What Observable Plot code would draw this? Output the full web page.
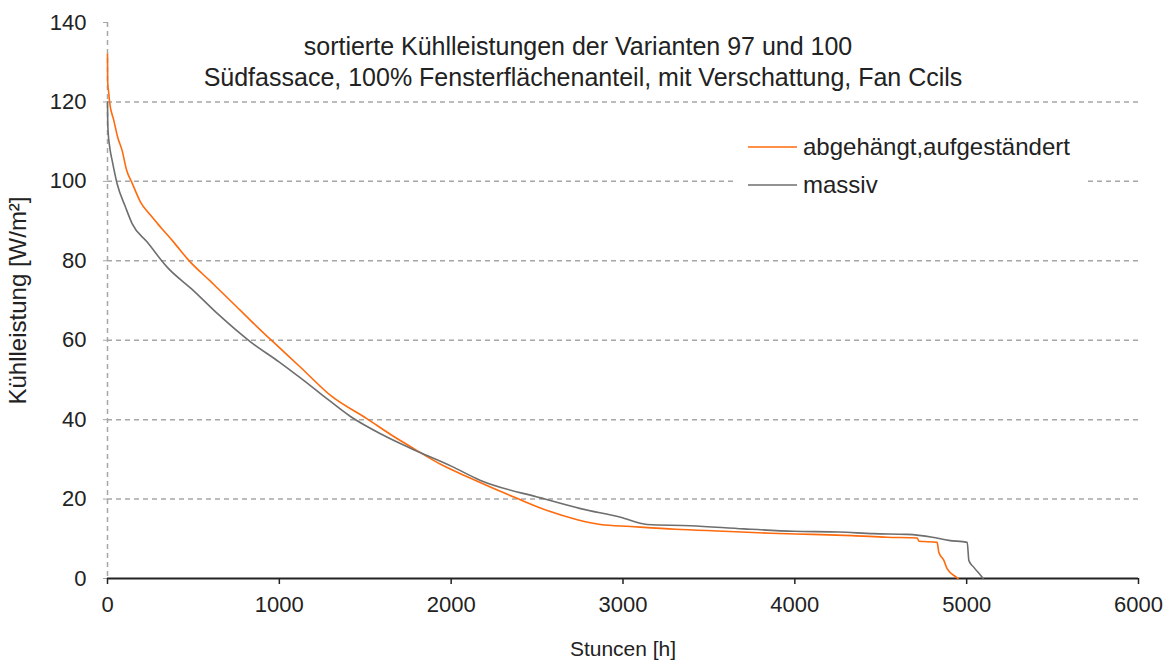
<!DOCTYPE html>
<html>
<head>
<meta charset="utf-8">
<script src="https://cdn.jsdelivr.net/npm/d3@7"></script>
<script src="https://cdn.jsdelivr.net/npm/@observablehq/plot@0.6"></script>
<style>
  html, body { margin: 0; padding: 0; background: #fff; }
  #chart svg { display: block; }
</style>
</head>
<body>
<div id="chart"></div>
<script>
// ---- data ----
const titleLines = [
  "sortierte Kühlleistungen der Varianten 97 und 100",
  "Südfassace, 100% Fensterflächenanteil, mit Verschattung, Fan Ccils"
];
const seriesNames = ["abgehängt,aufgeständert", "massiv"];
const seriesColors = ["#ff6a0d", "#6e6e6e"];
const xLabel = "Stuncen [h]";
const yLabel = "Kühlleistung [W/m²]";
const xTicks = [0, 1000, 2000, 3000, 4000, 5000, 6000];
const yTicks = [0, 20, 40, 60, 80, 100, 120, 140];
const gridValues = [20, 40, 60, 80, 100, 120];

const hoursA = [0, 1, 8, 12, 37, 60, 85, 110, 144, 192, 250, 308, 385, 473, 600, 750, 832, 966,
  1123, 1298, 1511, 1650, 1783, 1950, 2100, 2365, 2559, 2734, 2869, 3044, 3306, 3587, 3858,
  4101, 4334, 4537, 4712, 4722, 4828, 4838, 4868, 4887, 4941, 4950];
const valuesA = [132, 125, 122, 120, 115.3, 111, 107.8, 103, 99.5, 94.8, 91.5, 88.5, 84.7, 80.1, 74.8,
  68.5, 65, 59.5, 53.2, 46.1, 40.2, 36.2, 32.7, 28.5, 25.5, 20.5, 17.1, 14.8, 13.6, 13.1, 12.4, 11.9,
  11.4, 11.1, 10.8, 10.4, 10.2, 9.4, 9.1, 6.6, 4.5, 2.4, 0.3, 0];

const hoursM = [0, 2, 15, 27, 56, 105, 144, 231, 347, 500, 650, 832, 1000, 1123, 1250, 1414, 1600,
  1763, 2000, 2171, 2520, 2753, 2986, 3141, 3393, 3703, 3994, 4256, 4460, 4654, 4800, 4896, 5003,
  5013, 5042, 5090, 5095];
const valuesM = [120, 113.7, 108, 105.3, 99.4, 93.5, 89.3, 84.7, 78.4, 72.5, 66.3, 59.6, 54.5, 50.5,
  46.2, 40.8, 36.2, 32.8, 28.3, 24.7, 20.3, 17.6, 15.4, 13.6, 13.3, 12.5, 11.9, 11.7, 11.3, 11.1, 10.4,
  9.6, 9.1, 4.5, 2.8, 0.3, 0];

// ---- build table ----
const rows = [
  ...hoursA.map((h, i) => ({h, v: valuesA[i], s: seriesNames[0]})),
  ...hoursM.map((h, i) => ({h, v: valuesM[i], s: seriesNames[1]}))
];

const FONT = "'Liberation Sans', Arial, sans-serif";
const gridStyle = {stroke: "#a6a6a6", strokeDasharray: "5,4", strokeWidth: 1.5};

const plot = Plot.plot({
  width: 1174,
  height: 671,
  marginLeft: 107,
  marginRight: 36,
  marginTop: 22,
  marginBottom: 93,
  style: {fontFamily: FONT, fontSize: "22px", color: "#222", background: "#fff"},
  x: {domain: [0, 6000]},
  y: {domain: [0, 140]},
  color: {domain: seriesNames, range: seriesColors},
  marks: [
    Plot.ruleY(gridValues, gridStyle),
    Plot.ruleX([0], gridStyle),
    Plot.axisY({ticks: yTicks, tickSize: 6, tickPadding: 15, stroke: "#a6a6a6", strokeDasharray: "4,2", label: null, fontSize: 22}),
    Plot.axisX({ticks: xTicks, tickFormat: d => String(d), tickSize: 6, tickPadding: 12, stroke: "#222", strokeWidth: 1.5, label: null, fontSize: 22}),
    Plot.ruleY([0], {stroke: "#222", strokeWidth: 2}),
    Plot.line(rows, {x: "h", y: "v", z: "s", stroke: "s", strokeWidth: 1.6, curve: "monotone-x"}),
    Plot.text([titleLines[0]], {frameAnchor: "top", dx: -45, dy: 15, text: d => d, fontSize: 25, fill: "#222", textAnchor: "middle"}),
    Plot.text([titleLines[1]], {frameAnchor: "top", dx: -40, dy: 46, text: d => d, fontSize: 25, fill: "#222", textAnchor: "middle"}),
    Plot.text([xLabel], {frameAnchor: "bottom", dy: 77, text: d => d, fontSize: 21, fill: "#222", textAnchor: "middle"}),
    Plot.text([yLabel], {frameAnchor: "left", dx: -89, rotate: -90, text: d => d, fontSize: 24, fill: "#222", textAnchor: "middle"})
  ]
});

document.getElementById("chart").appendChild(plot);

// ---- legend (inside plot, white box over gridline) ----
const svg = d3.select(plot);
const lg = svg.append("g").attr("font-family", FONT).attr("font-size", 24).attr("text-anchor", "start");
lg.append("rect").attr("x", 735).attr("y", 122).attr("width", 350).attr("height", 82).attr("fill", "#fff");
seriesNames.forEach((name, i) => {
  const y = 147 + i * 38;
  lg.append("line").attr("x1", 748).attr("x2", 797).attr("y1", y).attr("y2", y)
    .attr("stroke", seriesColors[i]).attr("stroke-width", 1.6);
  lg.append("text").attr("x", 803).attr("y", y).attr("dy", "0.35em").attr("fill", "#222").text(name);
});
</script>
</body>
</html>
